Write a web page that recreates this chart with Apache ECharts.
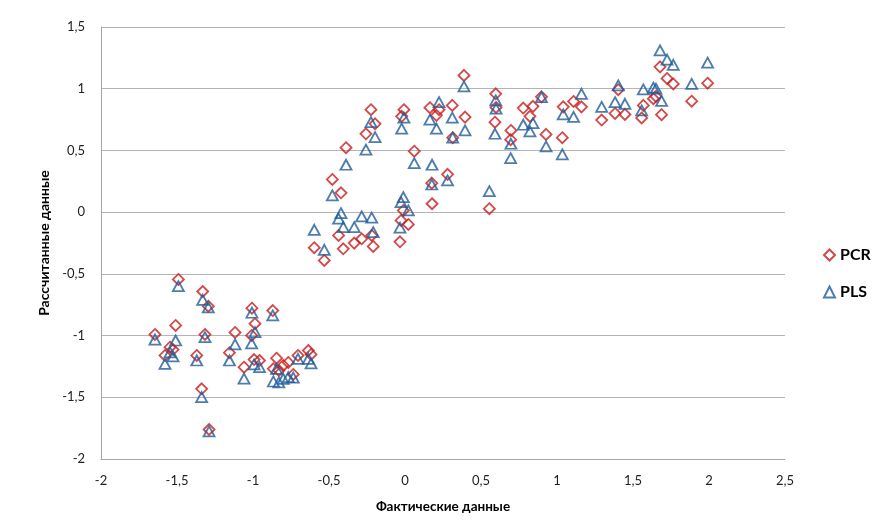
<!DOCTYPE html>
<html>
<head>
<meta charset="utf-8">
<script src="https://cdn.jsdelivr.net/npm/echarts@6/dist/echarts.min.js"></script>
<style>
html,body{margin:0;padding:0;background:#fff;}
#chart{width:878px;height:529px;}
</style>
</head>
<body>
<div id="chart"></div>
<script>
// Actual (x) values and predicted values for each sample
const actual = [
  -1.645,-1.579,-1.546,-1.526,-1.509,-1.491,-1.370,-1.338,-1.331,-1.316,
  -1.294,-1.289,-1.155,-1.118,-1.059,-1.009,-1.007,-0.987,-0.993,-0.957,
  -0.870,-0.845,-0.866,-0.801,-0.768,-0.735,-0.704,-0.636,-0.618,-0.830,
  -0.597,-0.531,-0.478,-0.421,-0.437,-0.406,-0.388,-0.334,-0.285,-0.257,
  -0.224,-0.219,-0.209,-0.197,-0.033,-0.026,-0.011,0.022,-0.007,-0.022,
  0.061,0.176,0.178,0.164,0.224,0.207,0.280,0.311,0.314,0.388,
  0.395,0.555,0.597,0.599,0.592,0.697,0.695,0.778,0.842,0.822,
  0.898,0.928,1.035,1.041,1.109,1.161,1.294,1.382,1.447,1.403,
  1.557,1.568,1.634,1.651,1.688,1.678,1.724,1.765,1.886,1.991
];
const pcr = [
  -0.991,-1.161,-1.094,-1.113,-0.918,-0.545,-1.161,-1.431,-0.643,-0.991,
  -0.762,-1.761,-1.139,-0.975,-1.256,-0.999,-0.778,-0.904,-1.194,-1.202,
  -0.797,-1.183,-1.269,-1.242,-1.218,-1.315,-1.161,-1.121,-1.153,-1.283,
  -0.288,-0.391,0.265,0.157,-0.189,-0.297,0.522,-0.251,-0.216,0.635,
  0.830,-0.189,-0.278,0.716,-0.240,-0.067,0.014,-0.100,0.830,0.776,
  0.494,0.235,0.068,0.846,0.830,0.784,0.306,0.865,0.603,1.108,
  0.770,0.028,0.959,0.848,0.729,0.662,0.587,0.843,0.857,0.776,
  0.934,0.630,0.603,0.853,0.897,0.853,0.746,0.800,0.792,0.992,
  0.763,0.865,0.919,0.938,0.790,1.177,1.083,1.039,0.899,1.045
];
const pls = [
  -1.032,-1.229,-1.137,-1.169,-1.040,-0.600,-1.202,-1.499,-0.710,-1.013,
  -0.772,-1.777,-1.202,-1.072,-1.348,-1.064,-0.815,-0.972,-1.234,-1.256,
  -0.837,-1.269,-1.372,-1.350,-1.337,-1.340,-1.188,-1.188,-1.226,-1.380,
  -0.143,-0.305,0.135,-0.008,-0.053,-0.122,0.384,-0.122,-0.035,0.506,
  0.729,-0.045,-0.162,0.608,-0.126,0.081,0.122,0.014,0.765,0.676,
  0.397,0.224,0.384,0.749,0.891,0.676,0.257,0.765,0.603,1.019,
  0.662,0.170,0.905,0.838,0.635,0.554,0.438,0.708,0.721,0.654,
  0.932,0.532,0.468,0.792,0.771,0.959,0.853,0.891,0.878,1.027,
  0.824,0.994,1.008,1.000,0.901,1.310,1.236,1.194,1.039,1.211
];
const seriesNames = ['PCR', 'PLS'];
const xTitle = 'Фактические данные';
const yTitle = 'Рассчитанные данные';

const fmt = v => String(v).replace('.', ',');
const font = "Lato, 'Open Sans', sans-serif";

const chart = echarts.init(document.getElementById('chart'));
chart.setOption({
  animation: false,
  backgroundColor: '#fff',
  grid: { left: 101, right: 93, top: 27, bottom: 70, containLabel: false },
  legend: {
    orient: 'vertical',
    left: 818,
    top: 242,
    itemWidth: 11,
    itemHeight: 11,
    itemGap: 21,
    data: [
      { name: seriesNames[0], icon: 'diamond' },
      { name: seriesNames[1], icon: 'triangle' }
    ],
    textStyle: { fontFamily: font, fontSize: 16, fontWeight: 'bold', color: '#000' }
  },
  xAxis: {
    type: 'value', min: -2, max: 2.5, interval: 0.5,
    name: xTitle, nameLocation: 'middle', nameGap: 41,
    nameTextStyle: { fontFamily: font, fontSize: 13.5, fontWeight: 'bold', color: '#000' },
    axisLine: { show: true, onZero: false, lineStyle: { color: '#a6a6a6' } },
    axisTick: { show: false },
    splitLine: { show: false },
    axisLabel: { formatter: fmt, margin: 15, fontFamily: font, fontSize: 13, color: '#222' }
  },
  yAxis: {
    type: 'value', min: -2, max: 1.5, interval: 0.5,
    name: yTitle, nameLocation: 'middle', nameGap: 48, nameRotate: 90,
    nameTextStyle: { fontFamily: font, fontSize: 14, fontWeight: 'bold', color: '#000' },
    axisLine: { show: true, onZero: false, lineStyle: { color: '#a6a6a6' } },
    axisTick: { show: false },
    splitLine: { show: true, lineStyle: { color: '#b4b4b4' } },
    axisLabel: { formatter: fmt, margin: 16, fontFamily: font, fontSize: 13, color: '#222' }
  },
  series: [
    {
      name: seriesNames[0], type: 'scatter', symbol: 'diamond', symbolSize: [11, 11],
      itemStyle: { color: 'rgba(255,255,255,0)', borderColor: '#c81c1c', borderWidth: 1.8 },
      data: actual.map((x, i) => [x, pcr[i]])
    },
    {
      name: seriesNames[1], type: 'scatter', symbol: 'triangle', symbolSize: [11, 10],
      itemStyle: { color: 'rgba(255,255,255,0)', borderColor: '#1f5c99', borderWidth: 1.8 },
      data: actual.map((x, i) => [x, pls[i]])
    }
  ]
});
</script>
</body>
</html>
